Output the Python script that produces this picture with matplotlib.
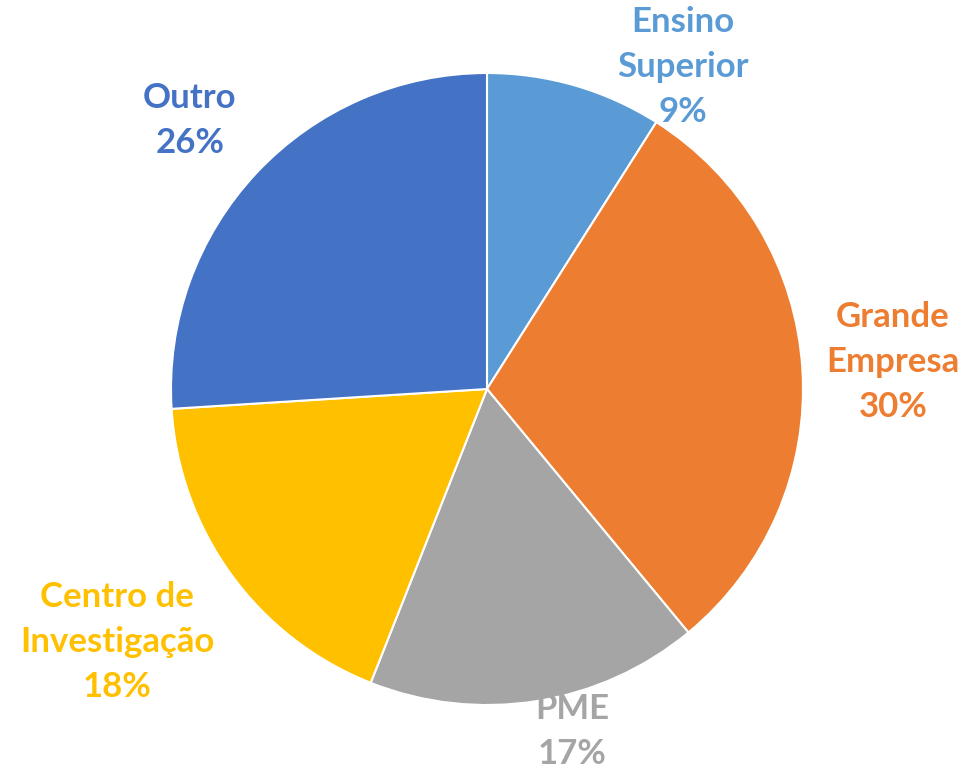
import matplotlib
matplotlib.use('Agg')
import matplotlib.pyplot as plt

categories = ['Ensino\nSuperior', 'Grande\nEmpresa', 'PME', 'Centro de\nInvestigação', 'Outro']
shares = [9, 30, 17, 18, 26]
colors = ['#5B9BD5', '#ED7D31', '#A5A5A5', '#FFC000', '#4472C4']
# label centres in pie-radius units (Excel nudges them off the mid-angle)
label_pos = [(0.62, 1.02), (1.285, 0.085), (0.27, -1.085), (-1.17, -0.80), (-0.94, 0.85)]

fig = plt.figure(figsize=(9.73, 7.72), dpi=100)
ax = fig.add_axes([0, 0, 1, 1])

wedges, _ = ax.pie(shares, colors=colors, startangle=90, counterclock=False,
                   radius=1, wedgeprops=dict(edgecolor='white', linewidth=1.5))

for name, val, col, (x, y) in zip(categories, shares, colors, label_pos):
    ax.text(x, y, f"{name}\n{val}%", color=col, ha='center', va='center',
            multialignment='center', fontsize=25, fontweight='bold',
            family=['Lato', 'DejaVu Sans'], linespacing=1.5)

ax.set_xlim(-487 / 316, (973 - 487) / 316)
ax.set_ylim(-(772 - 389) / 316, 389 / 316)
ax.set_aspect('auto')
ax.axis('off')

fig.savefig('out.png', dpi=100)
